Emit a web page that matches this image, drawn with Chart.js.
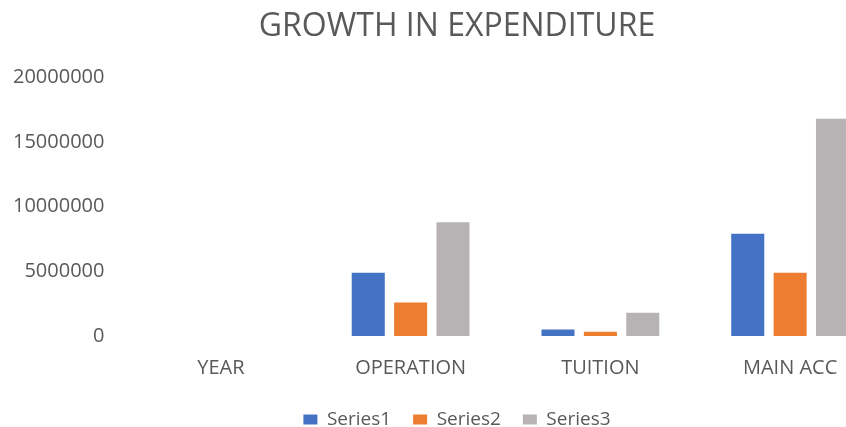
<!DOCTYPE html>
<html>
<head>
<meta charset="utf-8">
<script src="https://cdn.jsdelivr.net/npm/chart.js@4"></script>
<style>
  html, body { margin: 0; padding: 0; background: #fff; overflow: hidden; }
  #wrap { position: absolute; left: 0; top: 0; width: 908px; height: 427px; }
</style>
</head>
<body>
<div id="wrap"><canvas id="myChart"></canvas></div>
<script>
const categories = ['YEAR', 'OPERATION', 'TUITION', 'MAIN ACC'];
const series1 = [0, 4900000, 500000, 7900000];
const series2 = [0, 2600000, 330000, 4900000];
const series3 = [0, 8800000, 1800000, 16800000];
const yTicks = [0, 5000000, 10000000, 15000000, 20000000];

const textColor = '#595959';
const ctx = document.getElementById('myChart').getContext('2d');

// y labels are drawn mirrored so they are not clipped by the narrow axis box
const myChart = new Chart(ctx, {
    type: 'bar',
    data: {
        labels: categories,
        datasets: [
            { label: 'Series1', data: series1, backgroundColor: '#4472C4' },
            { label: 'Series2', data: series2, backgroundColor: '#ED7D31' },
            { label: 'Series3', data: series3, backgroundColor: '#B7B3B5' }
        ]
    },
    options: {
        responsive: true,
        maintainAspectRatio: false,
        animation: false,
        layout: { padding: { left: 29, right: 23, top: 8, bottom: -12 } },
        datasets: { bar: { categoryPercentage: 0.67, barPercentage: 0.78 } },
        plugins: {
            title: {
                display: true,
                text: 'GROWTH IN EXPENDITURE',
                color: textColor,
                font: { family: 'Open Sans', size: 32, weight: 'normal' },
                padding: { top: 0, bottom: 31 }
            },
            legend: {
                position: 'bottom',
                labels: {
                    color: textColor,
                    boxWidth: 14,
                    boxHeight: 10,
                    padding: 22,
                    font: { family: 'Open Sans', size: 19 }
                }
            },
            tooltip: { enabled: false }
        },
        scales: {
            x: {
                grid: { display: false, drawTicks: false },
                border: { display: false },
                ticks: { color: textColor, font: { family: 'Open Sans', size: 20 }, padding: 20 },
                afterFit: axis => { axis.height = 52; }
            },
            y: {
                min: 0,
                max: 20000000,
                grid: { display: false, drawTicks: false },
                border: { display: false },
                afterBuildTicks: axis => { axis.ticks = yTicks.map(v => ({ value: v })); },
                afterFit: axis => { axis.width = 97; },
                ticks: {
                    color: textColor,
                    font: { family: 'Open Sans', size: 20 },
                    mirror: true,
                    crossAlign: 'far',
                    padding: -113,
                    callback: v => String(v)
                }
            }
        }
    }
});
</script>
</body>
</html>
